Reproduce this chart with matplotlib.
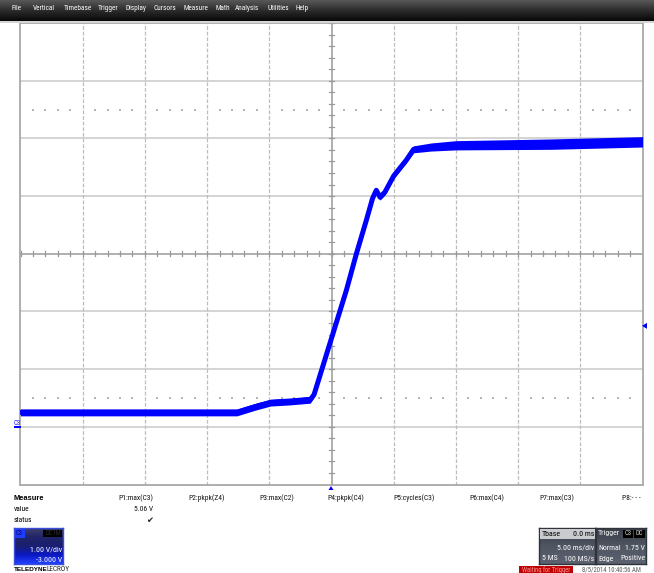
import os
import numpy as np
import matplotlib
matplotlib.use("Agg")
import matplotlib.pyplot as plt
from matplotlib.patches import Rectangle, Polygon
from matplotlib import font_manager
from matplotlib.font_manager import FontProperties

# ---------------- data ----------------
time_ms = [-25.0, -7.6, -6.1, -4.9, -3.3, -1.7, -1.4, 1.2, 2.0, 2.8,
           3.3, 3.6, 3.9, 4.3, 5.0, 6.0, 6.6, 8.0, 10.0, 17.6, 25.0]
volts = [0.25, 0.25, 0.35, 0.42, 0.44, 0.47, 0.56, 2.37, 3.00, 3.58,
         3.96, 4.10, 3.98, 4.07, 4.35, 4.62, 4.81, 4.85, 4.88, 4.90, 4.94]
band_v = [0.06, 0.06, 0.06, 0.06, 0.06, 0.06, 0.04, 0.03, 0.03, 0.04,
          0.05, 0.05, 0.05, 0.05, 0.05, 0.05, 0.06, 0.07, 0.08, 0.09, 0.09]

menu_items = ["File", "Vertical", "Timebase", "Trigger", "Display", "Cursors",
              "Measure", "Math", "Analysis", "Utilities", "Help"]
menu_x = [12, 33, 64, 98, 125, 153, 183, 215, 235, 267, 295]
menu_w = [9, 22, 26, 20, 22, 23, 24, 14, 27, 22, 13]

param_labels = ["P1:max(C3)", "P2:pkpk(Z4)", "P3:max(C2)", "P4:pkpk(C4)",
                "P5:cycles(C3)", "P6:max(C4)", "P7:max(C3)", "P8:- - -"]
param_x = [118, 188, 259, 327, 393, 469, 539, 622]
param_w = [35, 36, 34, 38, 41, 34, 34, 21]
p1_value = "5.06 V"

volts_per_div = 1.00
offset_v = -3.000
time_per_div_ms = 5.00
trigger_level_v = 1.75

# ---------------- figure ----------------
W, H = 654, 573
fig = plt.figure(figsize=(W / 100, H / 100), dpi=100)
fig.patch.set_facecolor("white")

narrow_file = None
prefs = ["liberationsansnarrow-regular", "arialn", "robotocondensed-regular",
         "dejavusanscondensed.ttf", "opensans_condensed", "opensans-condensed"]
files = [f.fname for f in font_manager.fontManager.ttflist]
for p in prefs:
    for fn in files:
        if p in os.path.basename(fn).lower().replace(" ", ""):
            narrow_file = fn
            break
    if narrow_file:
        break


def base_fp(size, bold=False):
    if narrow_file and not bold:
        return FontProperties(fname=narrow_file, size=size)
    return FontProperties(family=["Liberation Sans", "DejaVu Sans"], size=size,
                          weight="bold" if bold else "normal")


def fx(x):
    return x / W


def fy(y):
    return 1 - y / H


to_fit = []


def ftext(x, y, s, w=None, size=6.5, bold=False, group=None, **kw):
    kw.setdefault("va", "center")
    t = fig.text(fx(x), fy(y), s, fontproperties=base_fp(size, bold), **kw)
    if w:
        to_fit.append((t, w, group or id(t)))
    return t


def frect(x0, y0, x1, y1, **kw):
    fig.patches.append(Rectangle((fx(x0), fy(y1)), fx(x1) - fx(x0), fy(y0) - fy(y1),
                                 transform=fig.transFigure, **kw))


def grad_axes(x0, y0, x1, y1, colors, edge):
    a = fig.add_axes([fx(x0), fy(y1), (x1 - x0) / W, (y1 - y0) / H])
    g = np.linspace(0, 1, 60).reshape(-1, 1)
    a.imshow(g, aspect="auto", extent=[0, 1, 0, 1],
             cmap=matplotlib.colors.LinearSegmentedColormap.from_list("g", colors))
    a.set_xticks([])
    a.set_yticks([])
    for sp in a.spines.values():
        sp.set_color(edge)
        sp.set_linewidth(1.0)
    return a


# ---- menu bar ----
mb = fig.add_axes([0, fy(21), 1, 21 / H])
mb.imshow(np.linspace(0, 1, 50).reshape(-1, 1), aspect="auto", extent=[0, 1, 0, 1],
          cmap=matplotlib.colors.LinearSegmentedColormap.from_list(
              "m", ["#585858", "#2c2c2c", "#080808"]))
mb.set_axis_off()
for s, x, w in zip(menu_items, menu_x, menu_w):
    ftext(x, 8.5, s, w=w, color="white", group="menu")
frect(0, 21, W, 22.5, color="#d4d4d4", lw=0)

# ---- main scope axes ----
L, T, R, B = 20.5, 23, 642.5, 484.5
ax = fig.add_axes([fx(L), fy(B), (R - L) / W, (B - T) / H])
xmin, xmax = -5 * time_per_div_ms, 5 * time_per_div_ms
center_v = -offset_v
ymin, ymax = center_v - 4 * volts_per_div, center_v + 4 * volts_per_div
ax.set_xlim(xmin, xmax)
ax.set_ylim(ymin, ymax)
ax.set_xticks([])
ax.set_yticks([])
for sp in ax.spines.values():
    sp.set_color("#a8a8a8")
    sp.set_linewidth(1.3)

for k in range(1, 8):
    v = ymin + k * volts_per_div
    if k != 4:
        ax.axhline(v, color="#cdcdcd", lw=1.2, zorder=1)
for k in range(1, 10):
    t = xmin + k * time_per_div_ms
    if k != 5:
        ax.axvline(t, color="#bdbdbd", lw=0.9, ls=(0, (3, 1.5)), zorder=1)

ax.axhline(center_v, color="#9a9a9a", lw=1.1, zorder=1)
ax.axvline(0, color="#9a9a9a", lw=1.1, zorder=1)
tick_t = np.arange(xmin, xmax + 0.01, time_per_div_ms / 5)
tick_v = np.arange(ymin, ymax + 0.001, volts_per_div / 5)
for t in tick_t:
    ax.plot([t, t], [center_v - 0.045, center_v + 0.045], color="#9a9a9a", lw=0.9, zorder=1)
for v in tick_v:
    ax.plot([-0.2, 0.2], [v, v], color="#9a9a9a", lw=0.9, zorder=1)

for v in [center_v + 2.5 * volts_per_div, center_v - 2.5 * volts_per_div]:
    pts = [t for i, t in enumerate(tick_t) if i % 5 != 0]
    ax.scatter(pts, [v] * len(pts), s=0.6, color="#b5b5b5", marker="s", lw=0, zorder=1)

# trace
t_arr = np.array(time_ms)
v_arr = np.array(volts)
b_arr = np.array(band_v)
ax.fill_between(t_arr, v_arr - b_arr, v_arr + b_arr, color="#0000ff", lw=0, zorder=3)
ax.plot(t_arr, v_arr, color="#0000ff", lw=3.6, solid_joinstyle="round", zorder=3)

# trigger level marker (right edge) and trigger position marker (bottom)
yl = B - (trigger_level_v - ymin) / (ymax - ymin) * (B - T)
fig.patches.append(Polygon([[fx(642), fy(yl)], [fx(647), fy(yl - 3)], [fx(647), fy(yl + 3)]],
                           closed=True, transform=fig.transFigure, color="#0000ff", lw=0))
fig.patches.append(Polygon([[fx(331), fy(486)], [fx(328.5), fy(490)], [fx(333.5), fy(490)]],
                           closed=True, transform=fig.transFigure, color="#0000ff", lw=0))

# C3 ground marker
ftext(13.5, 423.5, "C3", w=7, color="#1a1aff")
frect(14, 426, 21, 427.5, color="#0000ff", lw=0)

# ---- measure table ----
ftext(14, 498, "Measure", w=27, bold=True, color="black", group="meas")
ftext(14, 509.5, "value", w=17, color="black", group="meas")
ftext(14, 521, "status", w=18, color="black", group="meas")
for s, x, w in zip(param_labels, param_x, param_w):
    ftext(x, 498, s, w=w, color="#111111", group="meas")
ftext(153.5, 509.5, p1_value, w=20, color="#111111", ha="right", group="meas")
fig.text(fx(149.5), fy(521), "\u2714", color="#222222", fontsize=6,
         family=["DejaVu Sans"], ha="center", va="center")

# ---- channel box ----
grad_axes(14, 528, 63, 564,
          ["#3c3f6c", "#202468", "#1a1f70", "#0b18c4", "#2040ff"], "#3a4dd8")
frect(15, 529, 25, 537.5, color="#1f3cff", lw=0)
ftext(16, 533.5, "C3", w=7, color="#0a0a70", group="small")
frect(43, 529.5, 62, 537, color="black", lw=0)
ftext(61.5, 533.5, "DC1M", w=17, color="#2a2a2a", ha="right", group="small")
ftext(62.5, 549, "1.00 V/div", w=31, color="white", ha="right", group="box")
ftext(62.5, 559.5, "-3.000 V", w=27, color="white", ha="right", group="box")

ftext(14, 569.5, "TELEDYNE", w=28, bold=True, color="black")
ftext(46.5, 569.5, "LECROY", w=23, color="#222222")

# ---- timebase box ----
grad_axes(539, 528, 595, 564, ["#3a3f4a", "#4f5561", "#5c6270"], "#2f333b")
frect(539.5, 528.5, 594.5, 538.5, color="#c9cbcf", lw=0)
ftext(541.5, 533.5, "Tbase", w=22, color="black", group="box")
ftext(594.5, 533.5, "0.0 ms", w=18, color="black", ha="right", group="box")
ftext(594.5, 548, "5.00 ms/div", w=33, color="white", ha="right", group="box")
ftext(541.5, 558.5, "5 MS", w=12, color="white", group="box")
ftext(594.5, 558.5, "100 MS/s", w=28, color="white", ha="right", group="box")

# ---- trigger box ----
grad_axes(596, 528, 645.5, 564, ["#3a3f4a", "#4f5561", "#5c6270"], "#2f333b")
ftext(598, 533.5, "Trigger", w=22, color="white", group="box")
frect(623, 529.5, 633, 537.5, color="black", lw=0)
frect(634, 529.5, 644.5, 537.5, color="black", lw=0)
ftext(628, 533.5, "C3", w=7, color="#d0d0d0", ha="center", group="small")
ftext(639.3, 533.5, "DC", w=7, color="#d0d0d0", ha="center", group="small")
ftext(598, 548, "Normal", w=24, color="white", group="box")
ftext(645, 548, "1.75 V", w=20, color="white", ha="right", group="box")
ftext(598, 558.5, "Edge", w=16, color="white", group="box")
ftext(645, 558.5, "Positive", w=24, color="white", ha="right", group="box")

# ---- status ----
frect(519, 565.5, 573, 573, color="#c00000", lw=0)
ftext(546, 570, "Waiting for Trigger", w=48, color="#ff9a9a", ha="center", group="status")
ftext(582, 569.5, "8/5/2014 10:40:56 AM", w=60, color="#555555", group="status")

# fit texts to the reference widths; one common size per group
renderer = fig.canvas.get_renderer()
sizes = {}
for t, w, g in to_fit:
    bb = t.get_window_extent(renderer)
    if bb.width > 0:
        sizes.setdefault(g, []).append(t.get_fontsize() * w / bb.width)
for t, w, g in to_fit:
    if g in sizes:
        t.set_fontsize(max(4.6, float(np.median(sizes[g]))))

fig.savefig("out.png", dpi=100, facecolor="white")
